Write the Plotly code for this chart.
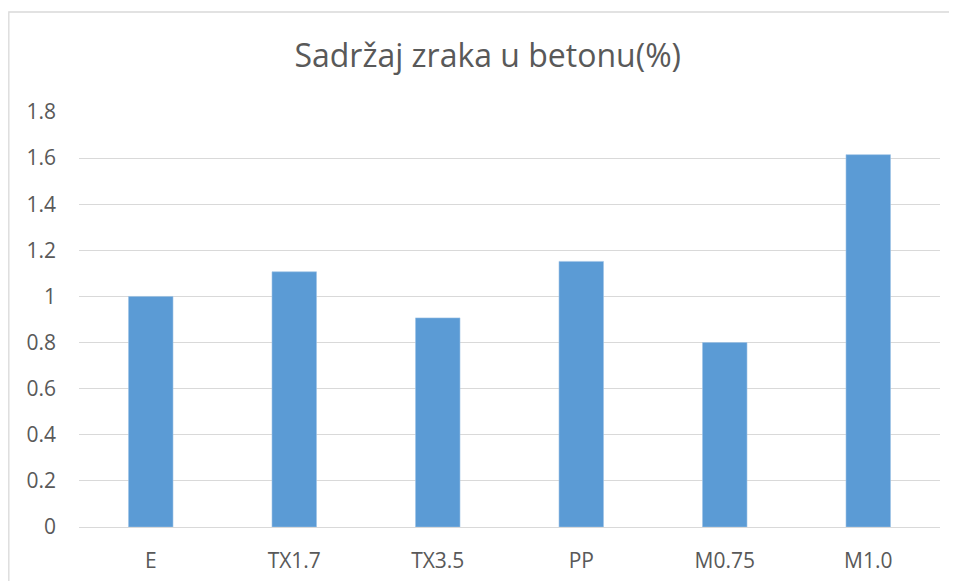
import plotly.graph_objects as go

categories = ["E", "TX1.7", "TX3.5", "PP", "M0.75", "M1.0"]
air_content = [1.0, 1.107, 0.907, 1.152, 0.8, 1.615]
y_ticks = [0, 0.2, 0.4, 0.6, 0.8, 1, 1.2, 1.4, 1.6, 1.8]
y_tick_labels = ["0", "0.2", "0.4", "0.6", "0.8", "1", "1.2", "1.4", "1.6", "1.8"]

TEXT = "#595959"
GRID = "#d9d9d9"
BAR = "#5b9bd5"

fig = go.Figure()
fig.add_trace(go.Bar(
    x=categories, y=air_content,
    marker=dict(color=BAR, line=dict(color="#9dc3e6", width=0.6)),
    hoverinfo="x+y",
))

# outer chart frame like Excel's chart area border
fig.add_shape(type="rect", xref="paper", yref="paper",
              x0=-0.0815, x1=1.05, y0=-0.3, y1=1.241,
              line=dict(color=GRID, width=1.3), fillcolor="rgba(0,0,0,0)", layer="below")

# page body has an 8px margin, so the figure is 8px smaller than the window
fig.update_layout(
    width=949, height=573,
    margin=dict(l=71, r=17, t=104, b=54),
    plot_bgcolor="white", paper_bgcolor="white",
    showlegend=False,
    bargap=0.69,
    font=dict(family="Open Sans", color=TEXT),
    title=dict(text="Sadržaj zraka u betonu(%)", x=0.5055, xanchor="center",
               y=0.916, yanchor="middle",
               font=dict(family="Open Sans", size=32, color=TEXT)),
    xaxis=dict(showgrid=False, zeroline=False, showline=False, ticks="",
               automargin=False,
               tickfont=dict(size=21, color=TEXT), ticklabelstandoff=19),
    yaxis=dict(range=[0, 1.8], tickvals=y_ticks, ticktext=y_tick_labels,
               showgrid=True, gridcolor=GRID, gridwidth=1.3,
               zeroline=True, zerolinecolor=GRID, zerolinewidth=1.3,
               showline=False, ticks="", automargin=False,
               tickfont=dict(size=21, color=TEXT), ticklabelstandoff=22),
)

fig.write_html("out.html")
